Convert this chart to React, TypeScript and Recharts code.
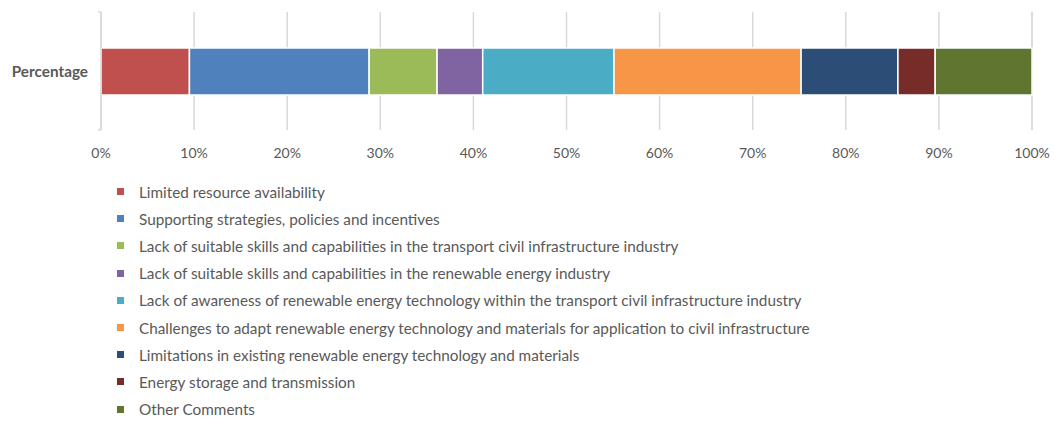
import React from 'react'
import { BarChart, Bar, XAxis, YAxis, CartesianGrid, Legend } from 'recharts'

const categories = ['Percentage']

const seriesNames = [
  'Limited resource availability',
  'Supporting strategies, policies and incentives',
  'Lack of suitable skills and capabilities in the transport civil infrastructure industry',
  'Lack of suitable skills and capabilities in the renewable energy industry',
  'Lack of awareness of renewable energy technology within the transport civil infrastructure industry',
  'Challenges to adapt renewable energy technology and materials for application to civil infrastructure',
  'Limitations in existing renewable energy technology and materials',
  'Energy storage and transmission',
  'Other Comments',
]

const seriesValues = [9.5, 19.3, 7.3, 4.9, 14.1, 20.1, 10.4, 4.0, 10.4]

const seriesColors = [
  '#c0504d',
  '#4f81bd',
  '#9bbb59',
  '#8064a2',
  '#4bacc6',
  '#f79646',
  '#2c4d75',
  '#772c2a',
  '#5f7530',
]

const xTicks = [0, 10, 20, 30, 40, 50, 60, 70, 80, 90, 100]

const FONT = 'Lato, "Open Sans", sans-serif'
const TEXT = '#595959'
const GRID = '#d9d9d9'

const chartData = categories.map(name => {
  const row: Record<string, string | number> = { name }
  seriesValues.forEach((v, i) => {
    row[`s${i}`] = v
  })
  return row
})

function CategoryTick(props: any) {
  const { x, y, payload } = props
  const half = payload?.offset ?? 0
  const axisX = x + 13
  return (
    <g>
      <text
        x={x}
        y={y}
        textAnchor="end"
        dominantBaseline="central"
        fill={TEXT}
        fontSize={15.3}
        fontWeight={700}
        fontFamily={FONT}
      >
        {payload.value}
      </text>
      <line x1={axisX - 3} x2={axisX} y1={y - half} y2={y - half} stroke={GRID} strokeWidth={1.5} />
      <line x1={axisX - 3} x2={axisX} y1={y + half} y2={y + half} stroke={GRID} strokeWidth={1.5} />
    </g>
  )
}

function LegendList() {
  return (
    <div style={{ fontFamily: FONT, fontSize: 15.3, color: TEXT }}>
      {seriesNames.map((name, i) => (
        <div key={name} style={{ display: 'flex', alignItems: 'center', height: 27.2 }}>
          <span
            style={{
              display: 'inline-block',
              width: 7,
              height: 7,
              background: seriesColors[i],
              marginRight: 15,
            }}
          />
          <span style={{ whiteSpace: 'nowrap' }}>{name}</span>
        </div>
      ))}
    </div>
  )
}

export default function App() {
  return (
    <div style={{ position: 'absolute', left: 0, top: 0, width: 1055, height: 421, background: '#fff' }}>
      <BarChart
        layout="vertical"
        width={1055}
        height={421}
        data={chartData}
        margin={{ top: 12, right: 23, left: 0, bottom: 261 }}
        barSize={47}
      >
        <CartesianGrid horizontal={false} stroke={GRID} strokeWidth={1.5} />
        <XAxis
          type="number"
          domain={[0, 100]}
          ticks={xTicks}
          tickFormatter={(v: number) => `${v}%`}
          axisLine={false}
          tickLine={false}
          tickMargin={12}
          height={30}
          tick={{ fill: TEXT, fontSize: 14, fontFamily: FONT }}
          interval={0}
        />
        <YAxis
          type="category"
          dataKey="name"
          width={101}
          axisLine={{ stroke: GRID, strokeWidth: 1.5 }}
          tickLine={false}
          tickSize={0}
          tickMargin={13}
          tick={<CategoryTick />}
        />
        <Legend
          layout="vertical"
          verticalAlign="middle"
          align="center"
          content={() => <LegendList />}
          wrapperStyle={{ left: 117, top: 178, width: 'auto' }}
        />
        {seriesNames.map((name, i) => (
          <Bar
            key={name}
            dataKey={`s${i}`}
            name={name}
            stackId="a"
            fill={seriesColors[i]}
            stroke="#ffffff"
            strokeWidth={1.5}
            isAnimationActive={false}
          />
        ))}
      </BarChart>
    </div>
  )
}
